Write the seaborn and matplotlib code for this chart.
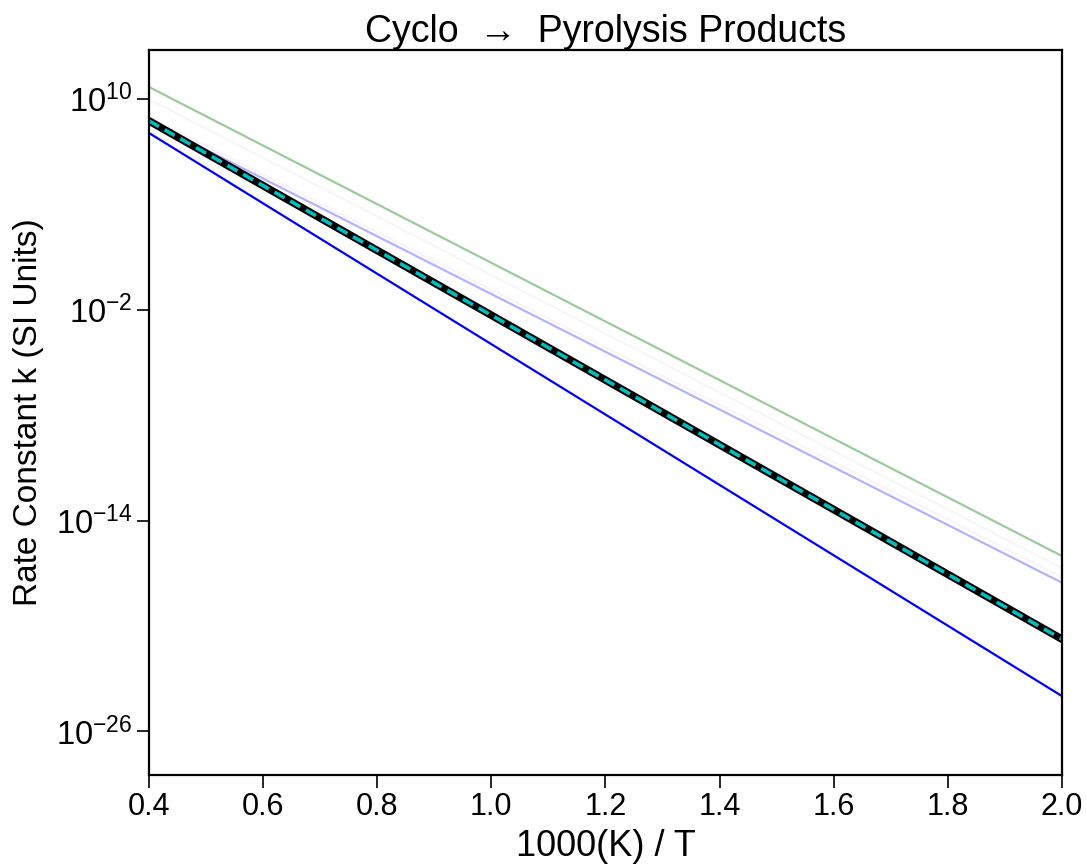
import numpy as np
import matplotlib
matplotlib.use('Agg')
import matplotlib.pyplot as plt
import seaborn as sns

# endpoints of each Arrhenius line (x = 1000/T, y = log10 k)
x_ends = [0.4, 2.0]
logk_green = [10.67, -16.02]
logk_grey = [9.97, -16.71]
logk_pink = [8.95, -17.22]
logk_lightblue = [8.74, -17.54]
logk_fit = [8.74, -20.75]
logk_blue = [8.05, -23.99]

yticks = [1e10, 1e-2, 1e-14, 1e-26]

sns.set_style('ticks')
plt.rcParams['font.family'] = ['Liberation Sans', 'DejaVu Sans']
plt.rcParams['mathtext.fontset'] = 'custom'
plt.rcParams['mathtext.rm'] = 'Liberation Sans'
plt.rcParams['mathtext.it'] = 'Liberation Sans:italic'
plt.rcParams['text.color'] = 'black'
plt.rcParams['axes.labelcolor'] = 'black'

fig = plt.figure(figsize=(10.87, 8.65), dpi=100)
ax = fig.add_axes([0.137, 0.104, 0.840, 0.838])

def draw(logk, **kw):
    sns.lineplot(x=x_ends, y=10 ** np.array(logk), ax=ax, **kw)

draw(logk_green, color='g', alpha=0.4, linewidth=1.6)
draw(logk_grey, color='grey', alpha=0.07, linewidth=1.6)
draw(logk_pink, color='m', alpha=0.05, linewidth=1.6)
draw(logk_lightblue, color='b', alpha=0.3, linewidth=1.6)
draw(logk_blue, color='b', linewidth=1.6)
draw(logk_fit, color='k', linewidth=5.5)
draw(logk_fit, color='c', linewidth=2.6, linestyle=(0, (3.2, 1.8)))

ax.set_yscale('log')
ax.set_xlim(0.4, 2.0)
ax.set_ylim(10 ** -28.48, 10 ** 12.76)
ax.set_yticks(yticks)
ax.yaxis.set_minor_locator(matplotlib.ticker.NullLocator())
ax.set_xticks(np.arange(0.4, 2.01, 0.2))
ax.xaxis.set_major_formatter(matplotlib.ticker.FormatStrFormatter('%.1f'))

for s in ax.spines.values():
    s.set_visible(True)
    s.set_linewidth(1.6)
    s.set_color('black')
ax.tick_params(axis='both', which='major', direction='out', length=9, width=1.2,
               labelsize=22, colors='black', top=False, right=False)
ax.tick_params(axis='y', pad=3, labelsize=23.5)

ax.set_xlabel('1000(K) / T', fontsize=26, labelpad=5)
ax.set_ylabel('Rate Constant k (SI Units)', fontsize=24, labelpad=8)
ax.set_title('Cyclo  →  Pyrolysis Products', fontsize=27, pad=5)

fig.savefig('out.png', dpi=100)
